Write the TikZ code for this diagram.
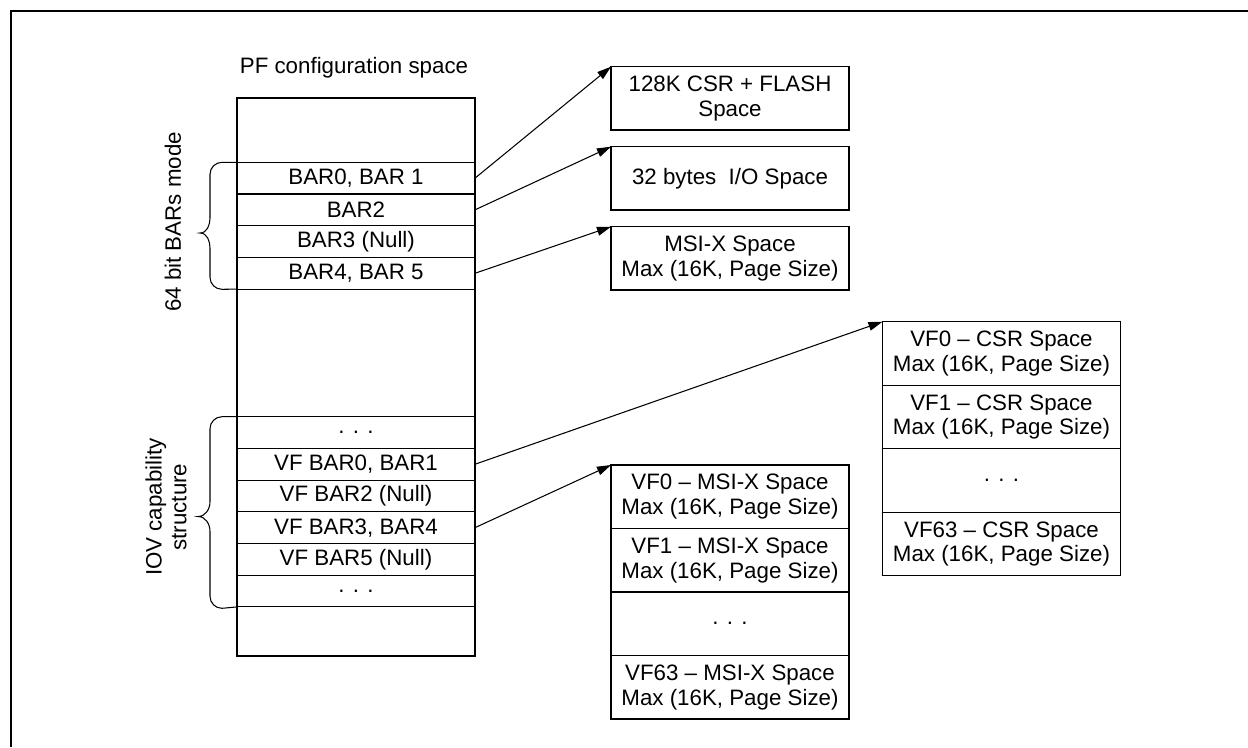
\documentclass[tikz,border=0pt]{standalone}
\usepackage{fontspec}
\setmainfont{Liberation Sans}
\usetikzlibrary{positioning,arrows.meta}

\tikzset{
  cell/.style={draw, minimum width=4.76cm, inner sep=0pt, outer sep=0pt, align=center},
  pfrow/.style={cell, minimum height=0.634cm},
  spacebox/.style={cell, minimum height=1.27cm},
  maparrow/.style={-{Triangle[length=8pt,width=5pt]}},
}

\begin{document}
\begin{tikzpicture}[line width=0.6pt, font=\fontsize{12.7}{14}\selectfont]
    \useasboundingbox (0,0) rectangle (24.96,-14.94);

    % frame (top and left edge only)
    \draw[line width=1.2pt] (0.22,-14.94) -- (0.22,-0.22) -- (24.96,-0.22);

    % PF configuration space column
    \node[anchor=base] (pftitle) at (7.08,-1.46) {PF configuration space};
    \node[cell, minimum height=11.16cm, anchor=north west] (pf) at (4.74,-1.96) {};

    \node[pfrow, below=1.286cm of pf.north] (bar01) {BAR0, BAR 1};
    \node[pfrow, below=0pt of bar01] (bar2) {BAR2};
    \node[pfrow, below=0pt of bar2] (bar3) {BAR3 (Null)};
    \node[pfrow, below=0pt of bar3] (bar45) {BAR4, BAR 5};

    \node[pfrow, below=2.552cm of bar45] (vfdotsa) {. . .};
    \node[pfrow, below=0pt of vfdotsa] (vfbar01) {VF BAR0, BAR1};
    \node[pfrow, below=0pt of vfbar01] (vfbar2) {VF BAR2 (Null)};
    \node[pfrow, below=0pt of vfbar2] (vfbar34) {VF BAR3, BAR4};
    \node[pfrow, below=0pt of vfbar34] (vfbar5) {VF BAR5 (Null)};
    \node[pfrow, below=0pt of vfbar5] (vfdotsb) {. . .};

    % braces and their labels
    \draw (bar01.north west) -- ++(-0.3,0) to[out=180,in=90] ++(-0.24,-0.24)
        -- (4.2,-4.36) to[out=-90,in=0] (4.0,-4.66) to[out=0,in=90] (4.2,-4.96)
        -- (4.2,-5.546) to[out=-90,in=180] (4.44,-5.786) -- (bar45.south west);
    \node[rotate=90] (barsmode) at (3.46,-4.44) {64 bit BARs mode};

    \draw (vfdotsa.north west) -- ++(-0.3,0) to[out=180,in=90] ++(-0.24,-0.24)
        -- (4.2,-10.03) to[out=-90,in=0] (3.96,-10.33) to[out=0,in=90] (4.2,-10.63)
        -- (4.2,-11.926) to[out=-90,in=180] (4.44,-12.166) -- (vfdotsb.south west);
    \node[rotate=90, align=center] (iovcap) at (3.32,-10.14) {IOV capability\\structure};

    % PF BAR spaces
    \node[cell, minimum height=1.266cm, anchor=north west] (csrflash) at (12.22,-1.334) {128K CSR + FLASH\\Space};
    \node[cell, minimum height=1.266cm, below=0.334cm of csrflash] (iospace) {32 bytes~ I/O Space};
    \node[cell, minimum height=1.266cm, below=0.334cm of iospace] (msixspace) {MSI-X Space\\Max (16K, Page Size)};

    % VF MSI-X spaces
    \node[spacebox, anchor=north west] (vfmsia) at (12.22,-9.3) {VF0 \textendash{} MSI-X Space\\Max (16K, Page Size)};
    \node[spacebox, below=0pt of vfmsia] (vfmsib) {VF1 \textendash{} MSI-X Space\\Max (16K, Page Size)};
    \node[spacebox, below=0pt of vfmsib] (vfmsidots) {. . .};
    \node[spacebox, below=0pt of vfmsidots] (vfmsin) {VF63 \textendash{} MSI-X Space\\Max (16K, Page Size)};

    % VF CSR spaces
    \node[spacebox, anchor=north west] (vfcsra) at (17.65,-6.434) {VF0 \textendash{} CSR Space\\Max (16K, Page Size)};
    \node[spacebox, below=0pt of vfcsra] (vfcsrb) {VF1 \textendash{} CSR Space\\Max (16K, Page Size)};
    \node[spacebox, below=0pt of vfcsrb] (vfcsrdots) {. . .};
    \node[spacebox, below=0pt of vfcsrdots] (vfcsrn) {VF63 \textendash{} CSR Space\\Max (16K, Page Size)};

    % mappings
    \draw[maparrow] (bar01.east) -- (csrflash.north west);
    \draw[maparrow] (bar2.east) -- (iospace.north west);
    \draw[maparrow] (bar45.east) -- (msixspace.north west);
    \draw[maparrow] (vfbar01.east) -- (vfcsra.north west);
    \draw[maparrow] (vfbar34.east) -- (vfmsia.north west);
\end{tikzpicture}
\end{document}
